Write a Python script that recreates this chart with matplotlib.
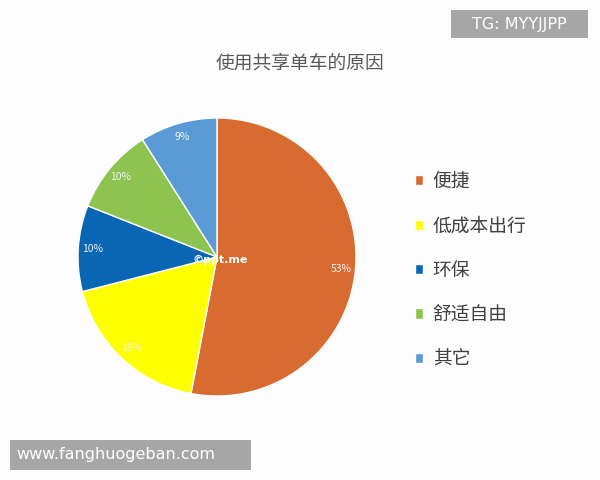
import matplotlib
matplotlib.use("Agg")
import matplotlib.pyplot as plt
from matplotlib.patches import Rectangle

plt.rcParams['font.family'] = ['Noto Sans CJK SC', 'DejaVu Sans']

# data
title = "使用共享单车的原因"
labels = ["便捷", "低成本出行", "环保", "舒适自由", "其它"]
shares = [53, 18, 10, 10, 9]
colors = ["#D86B30", "#FFFF00", "#0866B4", "#8DC44F", "#5B9BD5"]

fig = plt.figure(figsize=(6, 4.8), dpi=100)
fig.patch.set_facecolor("#FDFDFD")

# pie centre ~(217, 257) px, radius ~139 px
lim = 1.05
side = 139 * lim * 2
ax = fig.add_axes([(217 - side / 2) / 600, 1 - (257 + side / 2) / 480, side / 600, side / 480])
wedges, texts, autotexts = ax.pie(
    shares, colors=colors, startangle=90, counterclock=False,
    autopct=lambda p: f"{p:.0f}%", pctdistance=0.9,
    wedgeprops=dict(edgecolor="white", linewidth=1),
    textprops=dict(color="#F2F2F2", fontsize=7.5),
)
ax.set_xlim(-lim, lim)
ax.set_ylim(-lim, lim)
ax.set_aspect("equal")

# watermark in the centre of the pie
ax.text(0.02, -0.02, "©ppt.me", color="white", fontsize=8, fontweight="bold",
        ha="center", va="center", family=["DejaVu Sans"])

fig.text(0.5, 1 - 63 / 480, title, ha="center", va="center", fontsize=13.5, color="#595959")

leg = fig.legend(wedges, labels, loc="upper left", bbox_to_anchor=(398 / 600, 1 - 154 / 480),
                 frameon=False, fontsize=13.5, handlelength=0.45, handleheight=0.45,
                 handletextpad=0.5, labelspacing=1.25, labelcolor="#404040")

# overlay boxes from the screenshot
fig.patches.append(Rectangle((451 / 600, 1 - 38 / 480), 137 / 600, 28 / 480,
                             transform=fig.transFigure, facecolor="#A6A6A6", edgecolor="none"))
fig.text(519 / 600, 1 - 24 / 480, "TG: MYYJJPP", ha="center", va="center", color="white",
         fontsize=11.5, family=["DejaVu Sans"])
fig.patches.append(Rectangle((10 / 600, 1 - 470 / 480), 241 / 600, 30 / 480,
                             transform=fig.transFigure, facecolor="#A6A6A6", edgecolor="none"))
fig.text(16 / 600, 1 - 455 / 480, "www.fanghuogeban.com", ha="left", va="center", color="white",
         fontsize=11.5, family=["DejaVu Sans"])

fig.savefig("out.png", dpi=100, facecolor=fig.get_facecolor())
